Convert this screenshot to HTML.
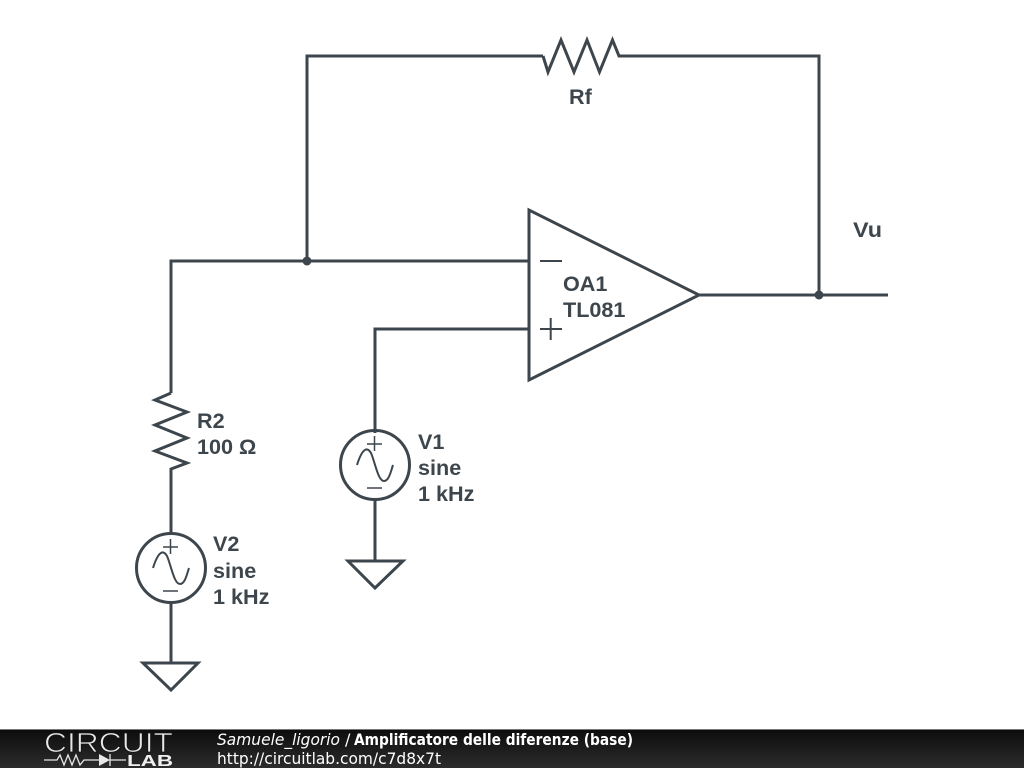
<!DOCTYPE html>
<html><head><meta charset="utf-8"><style>
html,body{margin:0;padding:0;background:#fff;width:1024px;height:768px;overflow:hidden}
svg{display:block}
</style></head><body>
<svg width="1024" height="768" viewBox="0 0 1024 768" xmlns="http://www.w3.org/2000/svg">
<defs>
<linearGradient id="bar" x1="0" y1="0" x2="0" y2="1"><stop offset="0" stop-color="#0c0c0c"/><stop offset="1" stop-color="#2c2c2c"/></linearGradient>
</defs>
<rect width="1024" height="768" fill="#fff"/>
<g fill="none" stroke="#3d464c" stroke-width="3" stroke-linejoin="miter">
<path d="M171 393V261H529"/>
<path d="M307 261V56H543"/>
<path d="M543 56L548 72L561 40L574 72L587 40L599.500 72L612.500 40L619 56H819V295"/>
<path d="M529 210V380L699 295Z"/>
<path d="M699 295H888"/>
<path d="M529 329H375V433"/>
<path d="M171 393L155 400L187 412L155 425L187 438L155 451L187 463L171 469V533"/>
<circle cx="171" cy="568" r="34.500"/>
<path d="M171 603V663"/>
<path d="M143 663H198L171 690Z"/>
<circle cx="375" cy="465" r="34.500"/>
<path d="M375 500V561"/>
<path d="M348 561H403L375 588Z"/>
</g>
<g fill="none" stroke="#3d464c" stroke-width="2">
<path d="M540 261H562"/>
<path d="M540 329H562M550.700 318V340"/>
<path d="M153 568C158 552 163 549 167 556C171 565 174 584 180 584C185 584 187 574 189 568"/>
<path d="M357 465C362 449 367 446 371 453C375 462 378 481 384 481C389 481 391 471 393 465"/>
</g>
<g fill="none" stroke="#3d464c" stroke-width="1.500">
<path d="M163 547H178M170.500 539V554"/>
<path d="M163 591H178"/>
<path d="M367 444H382M374.500 436V451"/>
<path d="M367 488H382"/>
</g>
<circle cx="307" cy="261" r="4.500" fill="#3d464c"/>
<circle cx="819" cy="295" r="4.500" fill="#3d464c"/>
<g font-family="'Liberation Sans',sans-serif" font-weight="700" font-size="21.600" fill="#3d464c">
<text x="569" y="104">Rf</text>
<text x="853" y="237" textLength="29" lengthAdjust="spacingAndGlyphs">Vu</text>
<text x="563" y="291">OA1</text>
<text x="563" y="317">TL081</text>
<text x="197" y="428">R2</text>
<text x="197" y="454">100 Ω</text>
<text x="213" y="551">V2</text>
<text x="213" y="578">sine</text>
<text x="213" y="604">1 kHz</text>
<text x="418" y="449">V1</text>
<text x="418" y="475">sine</text>
<text x="418" y="501">1 kHz</text>
</g>
<rect y="729" width="1024" height="39" fill="url(#bar)"/>
<rect y="729" width="1024" height="1" fill="#777"/>
<text x="44" y="752" font-family="'Liberation Sans',sans-serif" font-size="27.500" fill="#e8e8e8" stroke="#141414" stroke-width="0.800" paint-order="fill stroke" textLength="129" lengthAdjust="spacingAndGlyphs">CIRCUIT</text>
<g fill="none" stroke="#e8e8e8" stroke-width="1.300">
<path d="M44 760H57L60 755L64 765L68 755L72 765L76 755L80 765L84 760H100"/>
<path d="M110 754V766M110 760H126"/>
</g>
<path d="M99 754L110 760L99 766Z" fill="#e8e8e8"/>
<text x="127" y="766" font-family="'Liberation Sans',sans-serif" font-weight="700" font-size="15.500" fill="#f0f0f0" textLength="46" lengthAdjust="spacingAndGlyphs">LAB</text>
<g font-family="'DejaVu Sans',sans-serif" font-size="16" fill="#fff">
<text x="217" y="745" font-style="italic" textLength="123" lengthAdjust="spacingAndGlyphs">Samuele_ligorio</text>
<text x="345" y="745">/</text>
<text x="354" y="745" font-weight="700" textLength="279" lengthAdjust="spacingAndGlyphs">Amplificatore delle diferenze (base)</text>
<text x="217" y="764" textLength="224" lengthAdjust="spacingAndGlyphs">http://circuitlab.com/c7d8x7t</text>
</g>
</svg>
</body></html>
